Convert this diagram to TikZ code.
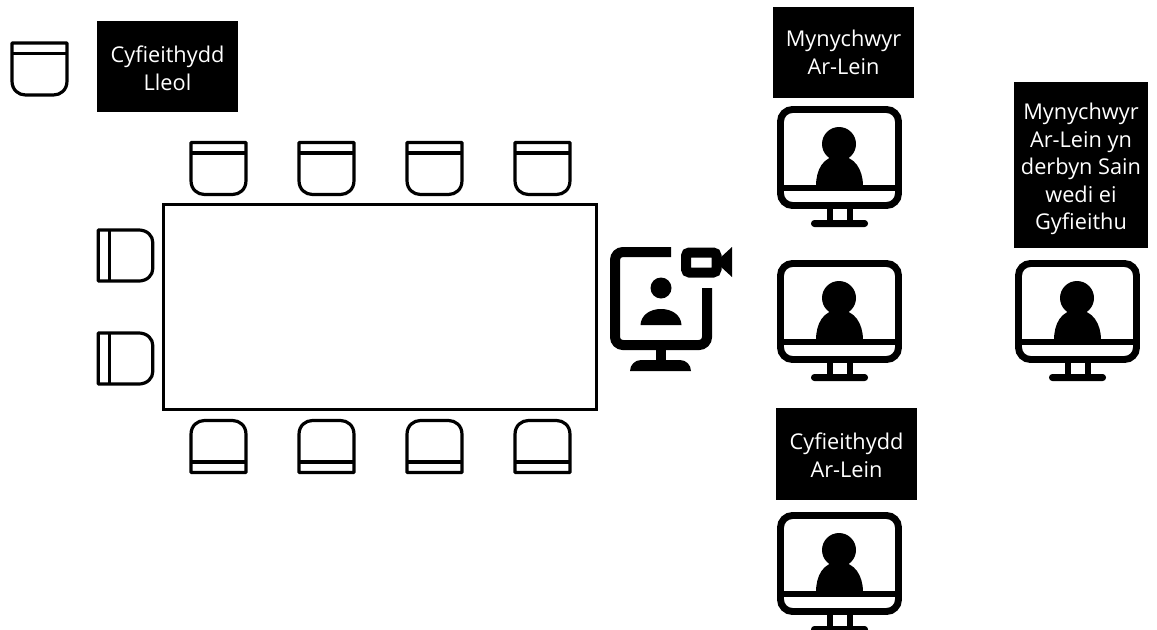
\documentclass[tikz,border=0pt]{standalone}
\usepackage{fontspec}
\setmainfont{Open Sans}
\tikzset{
  lab/.style={fill=black,inner sep=0pt},
  labt/.style={text=white,inner sep=0pt,align=center,font=\fontsize{16.3pt}{20.7pt}\selectfont},
  thin icon/.style={draw=black,line width=2.4pt,line join=round},
  chair/.pic={
    \draw[thin icon] (-27.5,-26) -- (27.5,-26) -- (27.5,12) .. controls (27.5,21) and (21,26) .. (14,26) -- (-14,26) .. controls (-21,26) and (-27.5,21) .. (-27.5,12) -- cycle;
    \draw[thin icon] (-27.5,-15.5) -- (27.5,-15.5);
  },
  monitor/.pic={
    \draw[line width=5.2pt,rounded corners=9pt] (3.5,3.5) rectangle (121.5,99.5);
    \draw[line width=5.2pt] (3.5,82) -- (121.5,82);
    \fill (62,38) circle (17);
    \fill (39,80) .. controls (39,64) and (46,50) .. (62,50) .. controls (78,50) and (86,64) .. (86,80) -- cycle;
    \fill (50,100) rectangle (55.5,116);
    \fill (70,100) rectangle (75.5,116);
    \fill[rounded corners=2.5pt] (34,114) rectangle (91,121);
  }
}
\begin{document}
\begin{tikzpicture}[x=0.75pt,y=-0.75pt]
\useasboundingbox (0,0) rectangle (1157,629);
\clip (0,0) rectangle (1157,629);
\node[lab,minimum width=141pt*0.75,minimum height=91pt*0.75,label={[labt,yshift=-1.5pt]center:{Cyfieithydd\\Lleol}}] (lleol) at (167.5,66.5) {};
\node[lab,minimum width=141pt*0.75,minimum height=91pt*0.75,label={[labt]center:{Mynychwyr\\Ar-Lein}}] (myn) at (843.5,52.5) {};
\node[lab,minimum width=134pt*0.75,minimum height=166pt*0.75,label={[labt,yshift=-3pt]center:{Mynychwyr\\Ar-Lein yn\\derbyn Sain\\wedi ei\\Gyfieithu}}] (myn2) at (1081,165) {};
\node[lab,minimum width=141pt*0.75,minimum height=92pt*0.75,label={[labt,yshift=-1pt]center:{Cyfieithydd\\Ar-Lein}}] (arlein) at (846.5,454) {};
\pic at (39.5,69) {chair};
\foreach \x in {218.5,326.5,434.5,542.5} {
  \pic at (\x,168.5) {chair};
  \pic[yscale=-1] at (\x,446.5) {chair};
}
\pic[rotate=90,xscale=0.93,yscale=1.05] at (125.5,255.5) {chair};
\pic[rotate=90,xscale=0.93,yscale=1.05] at (125.5,358.5) {chair};
\node[draw=black,line width=2.3pt,minimum width=433pt*0.75,minimum height=205pt*0.75,inner sep=0pt] (table) at (380,307) {};
\pic at (777,106) {monitor};
\pic at (777,260) {monitor};
\pic at (777,512) {monitor};
\pic at (1015,260) {monitor};
% camera monitor
\draw[line width=7.5pt,rounded corners=6pt] (671,252) -- (615,252) -- (615,345) -- (707,345) -- (707,288);
\fill (656,349) rectangle (666,362);
\fill (630,371) .. controls (630,365) and (635,360) .. (641,360) -- (680,360) .. controls (686,360) and (691,365) .. (691,371) -- cycle;
\fill (661,288) circle (10.5);
\fill (640.5,325) .. controls (641,315) and (650,309) .. (661,309) .. controls (672,309) and (681,315) .. (681.5,325) -- cycle;
\draw[line width=7.5pt,rounded corners=2.5pt] (686,252.5) rectangle (716.5,272.5);
\fill (720,258) -- (732,247) -- (732,277) -- (720,266) -- cycle;
\end{tikzpicture}
\end{document}
